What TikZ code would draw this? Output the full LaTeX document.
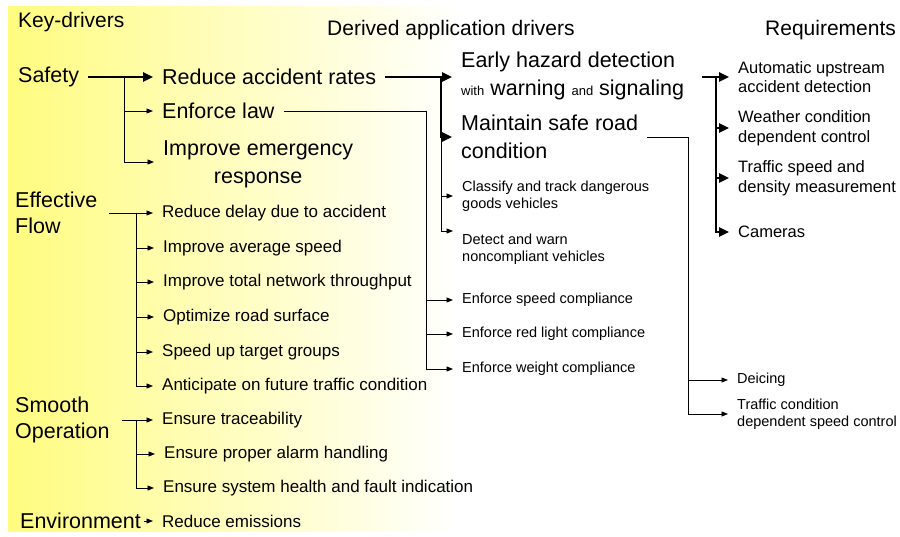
\documentclass[tikz,border=0pt]{standalone}
\usepackage{fontspec}
\setmainfont{Liberation Sans}
\usetikzlibrary{arrows.meta}

\definecolor{keyyellow}{RGB}{255,252,128}

\begin{document}
\begin{tikzpicture}[x=1pt, y=-1pt,
    txt/.style={anchor=west, inner xsep=9pt, inner ysep=0pt, align=left},
    hdr/.style={anchor=west, inner sep=0pt, font=\fontsize{21}{25}\selectfont},
    keydrv/.style={txt, font=\fontsize{21.5}{26}\selectfont},
    bigdrv/.style={txt, font=\fontsize{21.5}{28}\selectfont},
    middrv/.style={txt, font=\fontsize{17}{20}\selectfont},
    smalldrv/.style={txt, font=\fontsize{14.5}{17}\selectfont},
    reqbox/.style={txt, font=\fontsize{16.5}{19.5}\selectfont},
    arrow/.style={-{Triangle[length=6.5pt,width=5pt]}, line width=0.9pt},
    thickarrow/.style={-{Triangle[length=10pt,width=9pt]}, line width=2.4pt},
    line/.style={line width=0.9pt},
    thickline/.style={line width=2.4pt}]

    \useasboundingbox (0,0) rectangle (900,537);

    % Yellow band behind the key-drivers
    \shade[left color=keyyellow, right color=white] (8,7) rectangle (460,531);

    % Headers
    \node[hdr] (hkey) at (18,22) {Key-drivers};
    \node[hdr] (hderived) at (327,30) {Derived application drivers};
    \node[hdr] (hreq) at (765,30) {Requirements};

    % Key-drivers
    \node[keydrv] (safety) at (9,77) {Safety};
    \node[keydrv, inner xsep=12pt] (flow) at (3,213) {Effective\\Flow};
    \node[keydrv, inner xsep=12pt] (smooth) at (3,420) {Smooth\\Operation};
    \node[keydrv, inner xsep=3pt] (env) at (17,521) {Environment};

    % Safety drivers
    \node[bigdrv] (rar) at (153,77) {Reduce accident rates};
    \node[bigdrv] (law) at (153,111) {Enforce law};
    \node[bigdrv, align=center] (emerg) at (154,164) {Improve emergency\\response};

    % Effective flow drivers
    \node[middrv] (delay) at (153,213) {Reduce delay due to accident};
    \node[middrv] (avgspeed) at (154,248) {Improve average speed};
    \node[middrv] (throughput) at (154,282) {Improve total network throughput};
    \node[middrv] (surface) at (154,317) {Optimize road surface};
    \node[middrv] (groups) at (153,352) {Speed up target groups};
    \node[middrv] (anticipate) at (153,386) {Anticipate on future traffic condition};

    % Smooth operation drivers
    \node[middrv] (trace) at (153,420) {Ensure traceability};
    \node[middrv] (alarm) at (155,454) {Ensure proper alarm handling};
    \node[middrv] (health) at (154,488) {Ensure system health and fault indication};

    % Environment driver
    \node[middrv] (emission) at (153,521) {Reduce emissions};

    % Derived from reduce accident rates
    \node[bigdrv] (early) at (452,76) {Early hazard detection\\{\fontsize{13}{28}\selectfont with} warning {\fontsize{13}{28}\selectfont and} signaling};
    \node[bigdrv] (maintain) at (452,137) {Maintain safe road\\condition};
    \node[smalldrv] (classify) at (453,196) {Classify and track dangerous\\goods vehicles};
    \node[smalldrv] (detect) at (453,249) {Detect and warn\\noncompliant vehicles};

    % Derived from enforce law
    \node[smalldrv] (speedc) at (453,300) {Enforce speed compliance};
    \node[smalldrv] (redc) at (453,334) {Enforce red light compliance};
    \node[smalldrv] (weightc) at (453,369) {Enforce weight compliance};

    % Derived from maintain safe road condition
    \node[smalldrv] (deicing) at (728,380) {Deicing};
    \node[smalldrv] (tcspeed) at (728,414) {Traffic condition\\dependent speed control};

    % Requirements
    \node[reqbox] (upstream) at (729,77) {Automatic upstream\\accident detection};
    \node[reqbox] (weather) at (729,128) {Weather condition\\dependent control};
    \node[reqbox] (density) at (729,178) {Traffic speed and\\density measurement};
    \node[reqbox] (cameras) at (729,232) {Cameras};

    % Fork points
    \coordinate (safetyfork) at (124,77);
    \coordinate (flowfork) at (136,213);
    \coordinate (smoothfork) at (136,420);
    \coordinate (rarfork) at (441,77);
    \coordinate (lawfork) at (426,111);
    \coordinate (roadfork) at (688,137);
    \coordinate (reqstub) at (702,77);
    \coordinate (reqfork) at (716,77);

    % Safety arrows
    \draw[thickarrow] (safety.east) -- (rar.west);
    \draw[arrow] (safetyfork) |- (law.west);
    \draw[arrow] (safetyfork) |- ([yshift=2pt]emerg.west);

    % Effective flow arrows
    \draw[arrow] (flow.east) -- (delay.west);
    \draw[arrow] (flowfork) |- (avgspeed.west);
    \draw[arrow] (flowfork) |- (throughput.west);
    \draw[arrow] (flowfork) |- (surface.west);
    \draw[arrow] (flowfork) |- (groups.west);
    \draw[arrow] (flowfork) |- (anticipate.west);

    % Smooth operation arrows
    \draw[arrow] (smooth.east) -- (trace.west);
    \draw[arrow] (smoothfork) |- (alarm.west);
    \draw[arrow] (smoothfork) |- (health.west);

    % Environment arrow
    \draw[arrow] (env.east) -- (emission.west);

    % Reduce accident rates arrows
    \draw[thickarrow] (rar.east) -- (rar.east -| early.west);
    \draw[thickarrow] (rarfork) |- (maintain.west);
    \draw[arrow] (rarfork |- maintain.west) |- (classify.west);
    \draw[arrow] (rarfork |- maintain.west) |- ([yshift=18pt]detect.west);

    % Enforce law arrows
    \draw[line] (law.east) -- (lawfork);
    \draw[arrow] (lawfork) |- (speedc.west);
    \draw[arrow] (lawfork) |- (redc.west);
    \draw[arrow] (lawfork) |- (weightc.west);

    % Maintain safe road condition arrows
    \draw[line] (maintain.east) -- (roadfork);
    \draw[arrow] (roadfork) |- (deicing.west);
    \draw[arrow] (roadfork) |- (tcspeed.west);

    % Requirements bracket
    \draw[thickarrow] (reqstub) -- (upstream.west);
    \draw[thickarrow] (reqfork) |- (weather.west);
    \draw[thickarrow] (reqfork) |- (density.west);
    \draw[thickarrow] (reqfork) |- (cameras.west);

\end{tikzpicture}
\end{document}
